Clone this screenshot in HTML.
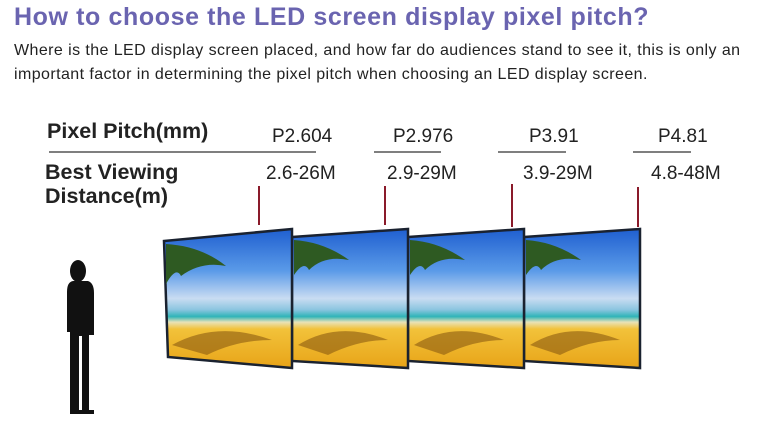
<!DOCTYPE html>
<html><head><meta charset="utf-8"><style>
body{margin:0;width:759px;height:444px;background:#fff;overflow:hidden;font-family:"Liberation Sans",sans-serif}
h1{position:absolute;left:14px;top:3px;margin:0;font-size:25px;font-weight:bold;color:#6a64b0;letter-spacing:0.6px}
p{position:absolute;left:14px;top:39px;margin:0;font-size:16px;letter-spacing:0.42px;line-height:24px;color:#222;width:735px}
svg{position:absolute;left:0;top:0}
</style></head><body>
<h1>How to choose the LED screen display pixel pitch?</h1>
<p>Where is the LED display screen placed, and how far do audiences stand to see it, this is only an important factor in determining the pixel pitch when choosing an LED display screen.</p>
<svg width="759" height="444" viewBox="0 0 759 444" font-family="Liberation Sans, sans-serif">
<defs>
<linearGradient id="g" x1="0" y1="0" x2="0" y2="1">
<stop offset="0" stop-color="#1f5fd0"/><stop offset="0.3" stop-color="#5a9ae8"/>
<stop offset="0.5" stop-color="#c9dcf2"/><stop offset="0.58" stop-color="#8cc5e0"/>
<stop offset="0.63" stop-color="#2fb4b8"/><stop offset="0.67" stop-color="#e8e2b8"/>
<stop offset="0.72" stop-color="#f2c23a"/><stop offset="1" stop-color="#e8a418"/>
</linearGradient>
</defs>
<g font-size="21.5" font-weight="bold" fill="#222">
<text x="47" y="138">Pixel Pitch(mm)</text>
<text x="45" y="179">Best Viewing</text>
<text x="45" y="203">Distance(m)</text>
</g>
<line x1="49" y1="152" x2="316" y2="152" stroke="#333" stroke-width="1.2"/>
<line x1="374" y1="152" x2="441" y2="152" stroke="#333" stroke-width="1.2"/>
<line x1="498" y1="152" x2="566" y2="152" stroke="#333" stroke-width="1.2"/>
<line x1="633" y1="152" x2="691" y2="152" stroke="#333" stroke-width="1.2"/>
<g font-size="19" fill="#222">
<text x="272" y="142">P2.604</text><text x="393" y="142">P2.976</text>
<text x="529" y="142">P3.91</text><text x="658" y="142">P4.81</text>
<text x="266" y="179">2.6-26M</text><text x="387" y="179">2.9-29M</text>
<text x="523" y="179">3.9-29M</text><text x="651" y="179">4.8-48M</text>
</g>
<g stroke="#8a1a2a" stroke-width="2">
<line x1="259" y1="186" x2="259" y2="225"/><line x1="385" y1="186" x2="385" y2="225"/>
<line x1="512" y1="184" x2="512" y2="227"/><line x1="638" y1="187" x2="638" y2="227"/>
</g>
<g stroke="#1a2230" stroke-width="2.5">
<polygon points="524,237 640,229 640,368 524,361" fill="url(#g)"/>
<path d="M526,240 q30,2 55,20 q-25,-5 -40,10 q-5,-10 -15,5z" fill="#2e5a22" stroke="none"/>
<path d="M530,345 q40,-25 90,-5 q-30,0 -60,15z" fill="#8a5a10" stroke="none" opacity="0.6"/>
<polygon points="408,237 524,229 524,368 408,361" fill="url(#g)"/>
<path d="M410,240 q30,2 55,20 q-25,-5 -40,10 q-5,-10 -15,5z" fill="#2e5a22" stroke="none"/>
<path d="M414,345 q40,-25 90,-5 q-30,0 -60,15z" fill="#8a5a10" stroke="none" opacity="0.6"/>
<polygon points="292,237 408,229 408,368 292,361" fill="url(#g)"/>
<path d="M294,240 q30,2 55,20 q-25,-5 -40,10 q-5,-10 -15,5z" fill="#2e5a22" stroke="none"/>
<path d="M298,345 q40,-25 90,-5 q-30,0 -60,15z" fill="#8a5a10" stroke="none" opacity="0.6"/>
<polygon points="164,241 292,229 292,368 168,357" fill="url(#g)"/>
<path d="M166,244 q35,2 60,22 q-25,-5 -45,10 q-5,-10 -15,8z" fill="#2e5a22" stroke="none"/>
<path d="M172,345 q45,-25 100,-5 q-35,0 -65,15z" fill="#8a5a10" stroke="none" opacity="0.6"/>
</g>
<g fill="#111">
<ellipse cx="78" cy="271" rx="8" ry="11"/>
<path d="M68,281 h20 q6,2 6,12 v42 h-5 v75 h5 v4 h-12 v-78 h-3 v74 h3 v4 h-12 v-4 v-78 h-3 v-40 q0,-10 6,-11z"/>
</g>
</svg>
</body></html>
